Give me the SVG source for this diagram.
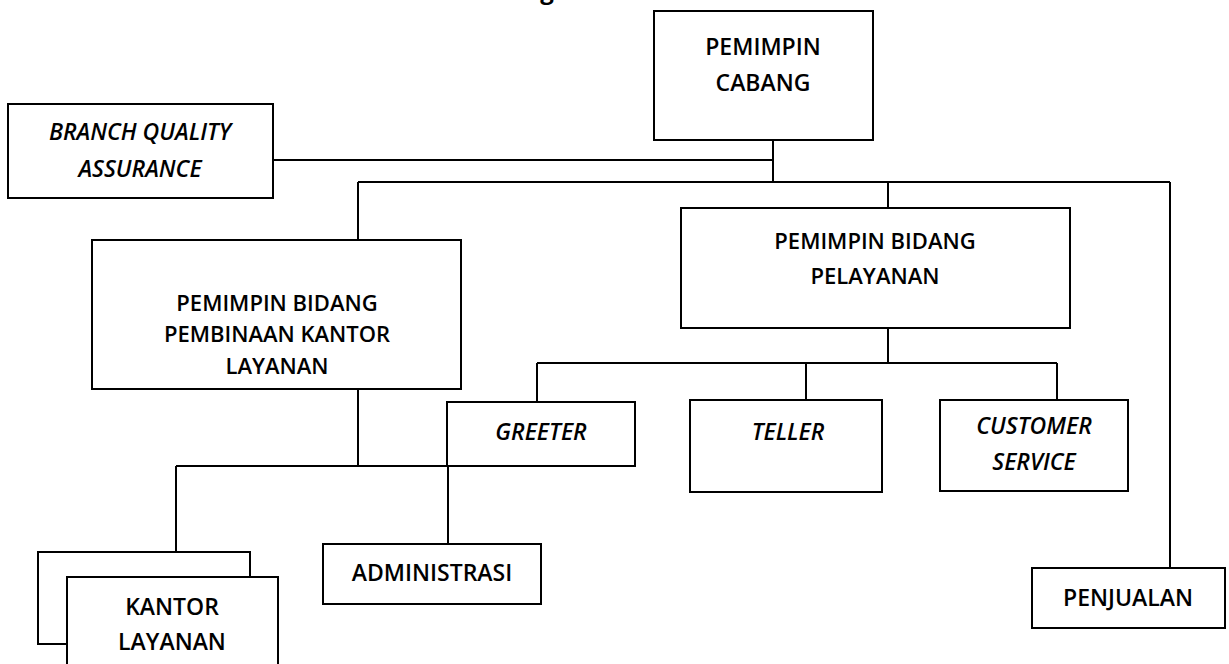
<svg xmlns="http://www.w3.org/2000/svg" width="1229" height="664" viewBox="0 0 1229 664">
<style>
.box{fill:#fff;stroke:#000;stroke-width:2}
.ln{fill:none;stroke:#000;stroke-width:2}
text{font-family:"Open Sans","Liberation Sans",sans-serif;font-size:23px;font-weight:600;fill:#000;text-anchor:middle}
.it{font-style:italic}
.sm{font-size:22px}
</style>
<rect width="1229" height="664" fill="#fff"/>
<text x="547" y="-1" style="font-weight:bold;font-size:24px">g</text>
<g id="connectors">
<path class="ln" d="M773 140V182M273 160H773M358 182H1170M358 182V240M888 182V208M1170 182V568"/>
<path class="ln" d="M888 328V363M537 363H1057M537 363V402M806 363V400M1057 363V400"/>
<path class="ln" d="M358 389V466M176 466H448M176 466V552M448 466V544"/>
</g>
<g id="pemimpin-cabang">
<rect class="box" x="654" y="11" width="219" height="129"/>
<text x="763" y="55">PEMIMPIN</text>
<text x="763" y="91">CABANG</text>
</g>
<g id="branch-quality-assurance">
<rect class="box" x="8" y="104" width="265" height="94"/>
<text class="it" x="140" y="140">BRANCH QUALITY</text>
<text class="it" x="140" y="177">ASSURANCE</text>
</g>
<g id="pb-pembinaan">
<rect class="box" x="92" y="240" width="369" height="149"/>
<text class="sm" x="277" y="311">PEMIMPIN BIDANG</text>
<text class="sm" x="277" y="342">PEMBINAAN KANTOR</text>
<text class="sm" x="277" y="374">LAYANAN</text>
</g>
<g id="pb-pelayanan">
<rect class="box" x="681" y="208" width="389" height="120"/>
<text class="sm" x="875" y="249">PEMIMPIN BIDANG</text>
<text class="sm" x="875" y="284">PELAYANAN</text>
</g>
<g id="greeter">
<rect class="box" x="447" y="402" width="188" height="64"/>
<text class="it" x="541" y="440">GREETER</text>
</g>
<g id="teller">
<rect class="box" x="690" y="400" width="192" height="92"/>
<text class="it" x="788" y="440">TELLER</text>
</g>
<g id="customer-service">
<rect class="box" x="940" y="400" width="188" height="91"/>
<text class="it" x="1034" y="434">CUSTOMER</text>
<text class="it" x="1034" y="470">SERVICE</text>
</g>
<g id="administrasi">
<rect class="box" x="323" y="544" width="218" height="60"/>
<text x="432" y="581">ADMINISTRASI</text>
</g>
<g id="kantor-layanan">
<rect class="box" x="38" y="552" width="212" height="92"/>
<rect class="box" x="67" y="577" width="211" height="100"/>
<text x="172" y="615">KANTOR</text>
<text x="172" y="650">LAYANAN</text>
</g>
<g id="penjualan">
<rect class="box" x="1032" y="568" width="193" height="60"/>
<text x="1128" y="606">PENJUALAN</text>
</g>
</svg>
